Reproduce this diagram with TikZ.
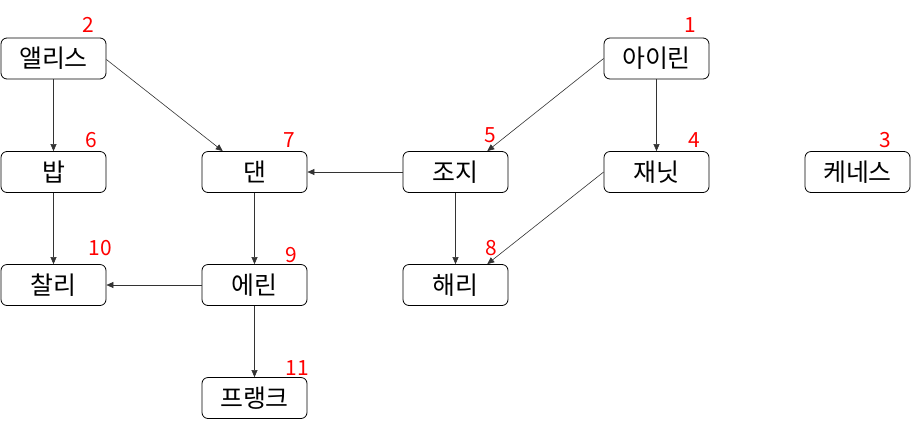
\documentclass[tikz,border=0pt]{standalone}
\usepackage{fontspec}
\setmainfont{Noto Sans CJK KR}
\usetikzlibrary{arrows.meta,calc}
\tikzset{
  person/.style={draw=black, line width=0.8bp, rounded corners=6bp, minimum width=105bp, minimum height=41bp, inner sep=0pt, font=\fontsize{25}{28}\selectfont},
  order/.style={text=red, inner sep=0pt, font=\fontsize{21}{24}\selectfont},
  edge/.style={draw=black!80, line width=0.6bp, -{Triangle[length=7bp,width=6bp]}}
}
\begin{document}
\begin{tikzpicture}[x=1bp,y=-1bp]
\useasboundingbox (0,0) rectangle (911,428);
% nodes
\node[person] (alice) at (53.5,58.5) {앨리스};
\node[person] (irene) at (656.5,58.5) {아이린};
\node[person] (bob) at (53.5,172) {밥};
\node[person] (dan) at (254.5,172) {댄};
\node[person] (george) at (455.5,172) {조지};
\node[person] (janet) at (656.5,172) {재닛};
\node[person] (kenneth) at (857.5,172) {케네스};
\node[person] (charlie) at (53.5,285) {찰리};
\node[person] (erin) at (254.5,285) {에린};
\node[person] (harry) at (455.5,285) {해리};
\node[person] (frank) at (254.5,398) {프랭크};
% order labels
\node[order] (n1) at (690,25) {1};
\node[order] (n2) at (88,25) {2};
\node[order] (n3) at (885,140) {3};
\node[order] (n4) at (694,140) {4};
\node[order] (n5) at (490,135) {5};
\node[order] (n6) at (91,140) {6};
\node[order] (n7) at (289,140) {7};
\node[order] (n8) at (491,248) {8};
\node[order] (n9) at (291,255) {9};
\node[order] (n10) at (100,248) {10};
\node[order] (n11) at (297,368) {11};
% edges
\draw[edge] (alice) -- (bob);
\draw[edge] ($(alice.east)+(0,1)$) -- ($(dan.north west)!0.2!(dan.north east)$);
\draw[edge] (irene.west) -- ($(george.north west)!0.8!(george.north east)$);
\draw[edge] (irene) -- (janet);
\draw[edge] (george) -- (dan);
\draw[edge] (george) -- (harry);
\draw[edge] (janet.west) -- ($(harry.north west)!0.8!(harry.north east)$);
\draw[edge] (bob) -- (charlie);
\draw[edge] (dan) -- (erin);
\draw[edge] (erin) -- (charlie);
\draw[edge] (erin) -- (frank);
\end{tikzpicture}
\end{document}
